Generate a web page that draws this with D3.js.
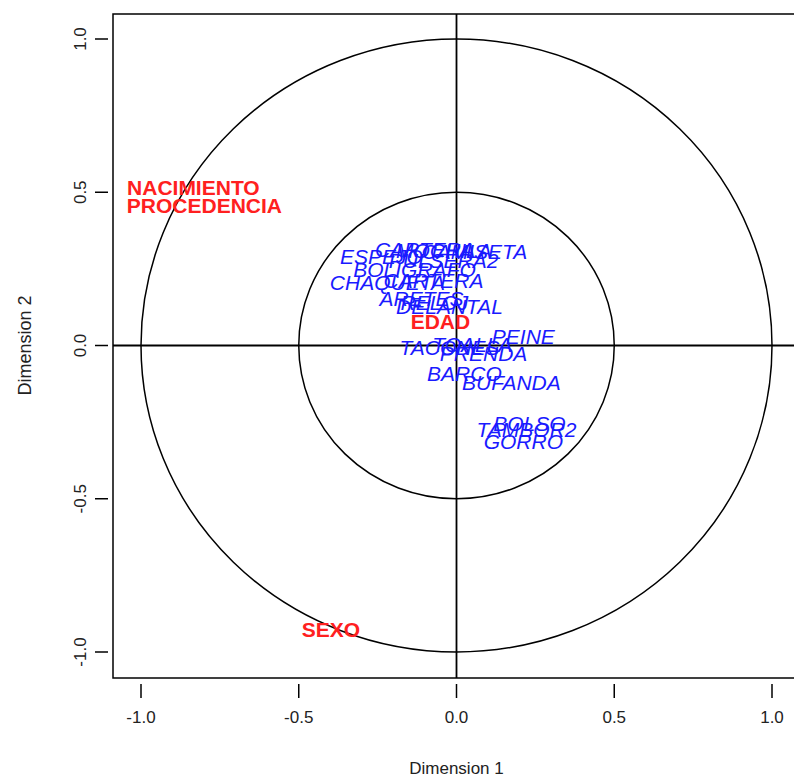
<!DOCTYPE html>
<html>
<head>
<meta charset="utf-8">
<script src="https://cdn.jsdelivr.net/npm/d3@7"></script>
<style>
  body { margin: 0; background: #fff; }
  text { font-family: "Liberation Sans", Arial, sans-serif; }
</style>
</head>
<body>
<div id="chart"></div>
<script>
// variables (supplementary, red) and categories (blue)
const varNames = ["NACIMIENTO", "PROCEDENCIA", "SEXO", "EDAD"];
const varX = [-0.834, -0.799, -0.398, -0.051];
const varY = [0.515, 0.457, -0.927, 0.078];

const catNames = ["ESPEJO", "CARTERA", "MOCHILA", "CAMISETA", "PULSERA2", "BOLIGRAFO",
    "CHAQUETA", "CARTERA", "ARETES", "RELOJ", "DELANTAL", "TACONES", "TOALLA",
    "PEINE", "PRENDA", "BARCO", "BUFANDA", "BOLSO", "TAMBOR2", "GORRO"];
const catX = [-0.238, -0.100, -0.040, 0.057, -0.041, -0.133,
    -0.219, -0.073, -0.111, -0.070, -0.022, -0.022, 0.050,
    0.212, 0.086, 0.025, 0.174, 0.231, 0.222, 0.212];
const catY = [0.290, 0.313, 0.310, 0.307, 0.277, 0.248,
    0.206, 0.212, 0.153, 0.140, 0.127, -0.007, 0.003,
    0.029, -0.026, -0.091, -0.121, -0.254, -0.274, -0.313];

const ticks = [-1.0, -0.5, 0.0, 0.5, 1.0];
const radii = [1.0, 0.5];

const width = 794, height = 776;
const box = { left: 113, top: 14, right: 800, bottom: 678 };

const svg = d3.select("#chart").append("svg")
    .attr("width", width)
    .attr("height", height);

// scales
const x = d3.scaleLinear().domain([-1, 1]).range([141, 772]);
const y = d3.scaleLinear().domain([-1, 1]).range([652, 39]);

// plot box
svg.append("rect")
    .attr("x", box.left).attr("y", box.top)
    .attr("width", box.right - box.left).attr("height", box.bottom - box.top)
    .attr("fill", "none").attr("stroke", "#000").attr("stroke-width", 1.5);

// circles
svg.selectAll(".circ")
    .data(radii)
    .join("ellipse")
    .attr("cx", x(0)).attr("cy", y(0))
    .attr("rx", d => x(d) - x(0))
    .attr("ry", d => y(0) - y(d))
    .attr("fill", "none").attr("stroke", "#000").attr("stroke-width", 1.5);

// axes through origin
svg.append("line")
    .attr("x1", box.left).attr("x2", box.right)
    .attr("y1", y(0)).attr("y2", y(0))
    .attr("stroke", "#000").attr("stroke-width", 1.8);
svg.append("line")
    .attr("x1", x(0)).attr("x2", x(0))
    .attr("y1", box.top).attr("y2", box.bottom)
    .attr("stroke", "#000").attr("stroke-width", 1.8);

// bottom ticks
const gx = svg.append("g");
gx.selectAll("line").data(ticks).join("line")
    .attr("x1", d => x(d)).attr("x2", d => x(d))
    .attr("y1", 684).attr("y2", 698)
    .attr("stroke", "#000").attr("stroke-width", 1.5);
gx.selectAll("text").data(ticks).join("text")
    .attr("x", d => x(d)).attr("y", 723)
    .attr("text-anchor", "middle")
    .attr("font-size", 17).attr("fill", "#222")
    .text(d => d3.format(".1f")(d).replace("−", "-"));

// left ticks
const gy = svg.append("g");
gy.selectAll("line").data(ticks).join("line")
    .attr("x1", 95).attr("x2", 108)
    .attr("y1", d => y(d)).attr("y2", d => y(d))
    .attr("stroke", "#000").attr("stroke-width", 1.5);
gy.selectAll("text").data(ticks).join("text")
    .attr("transform", d => `translate(86, ${y(d)}) rotate(-90)`)
    .attr("text-anchor", "middle")
    .attr("font-size", 17).attr("fill", "#222")
    .text(d => d3.format(".1f")(d).replace("−", "-"));

// axis titles
svg.append("text")
    .attr("x", x(0)).attr("y", 768)
    .attr("dy", "0.35em")
    .attr("text-anchor", "middle").attr("font-size", 17).attr("fill", "#222")
    .text("Dimension 1");
svg.append("text")
    .attr("transform", `translate(31, ${y(0)}) rotate(-90)`)
    .attr("text-anchor", "middle").attr("font-size", 18).attr("fill", "#222")
    .text("Dimension 2");

// category labels (blue italic)
svg.selectAll(".cat")
    .data(catNames)
    .join("text")
    .attr("x", (d, i) => x(catX[i]))
    .attr("y", (d, i) => y(catY[i]))
    .attr("dy", "0.36em")
    .attr("text-anchor", "middle")
    .attr("font-size", 21).attr("font-style", "italic")
    .attr("fill", "#1a1aff")
    .text(d => d);

// variable labels (red bold)
svg.selectAll(".var")
    .data(varNames)
    .join("text")
    .attr("x", (d, i) => x(varX[i]))
    .attr("y", (d, i) => y(varY[i]))
    .attr("dy", "0.36em")
    .attr("text-anchor", "middle")
    .attr("font-size", 21).attr("font-weight", "bold")
    .attr("fill", "#ff2020")
    .text(d => d);
</script>
</body>
</html>
